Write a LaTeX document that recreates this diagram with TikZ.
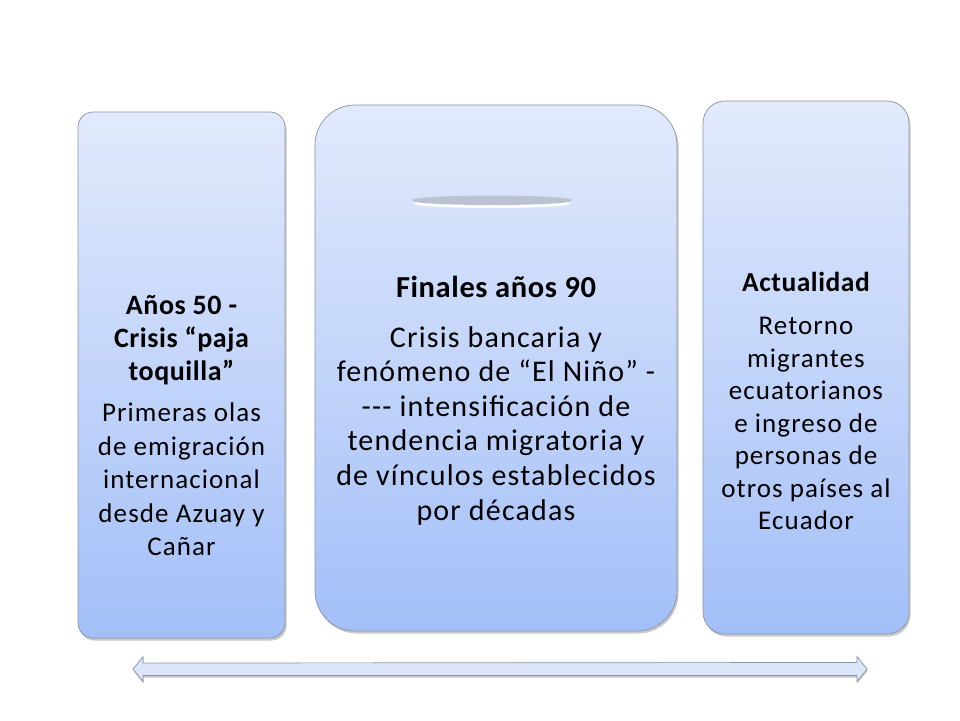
\documentclass[tikz,border=0pt]{standalone}
\usepackage{fontspec}
\setmainfont{Carlito}
\newfontfamily\bodyfont[LetterSpace=4]{Carlito}
\newfontfamily\titlefont[LetterSpace=2]{Carlito}
\usetikzlibrary{shadows}
\definecolor{topblue}{HTML}{E2EAFC}
\definecolor{botblue}{HTML}{A3BFF8}
\definecolor{edgegray}{HTML}{8A93A6}
\definecolor{arrowfill}{HTML}{DCE6F9}
\definecolor{bargray}{HTML}{BAC2D2}
\begin{document}
\begin{tikzpicture}[x=1pt,y=-1pt,
  box/.style={draw=edgegray, line width=0.7pt, top color=topblue, bottom color=botblue,
    drop shadow={shadow xshift=1.5pt, shadow yshift=-2.5pt, opacity=0.35, fill=black!60}},
  ttl/.style={anchor=north, align=center, inner sep=0pt, text=black},
  arrowstyle/.style={draw=edgegray, line width=0.7pt, fill=arrowfill,
    drop shadow={shadow xshift=0.5pt, shadow yshift=-2pt, opacity=0.35, fill=black!60}}
]
\useasboundingbox (0,0) rectangle (960,720);
\fill[white] (0,0) rectangle (960,720);

% boxes
\node[box, rounded corners=15pt, minimum width=207pt, minimum height=526pt] (L) at (181.5,375) {};
\node[box, rounded corners=40pt, minimum width=362pt, minimum height=526pt] (M) at (496,368) {};
\node[box, rounded corners=22pt, minimum width=206pt, minimum height=533pt] (R) at (806,367.5) {};

% gray bar in middle box
\fill[white] (492,203.5) ellipse (79pt and 4.5pt);
\fill[gray!70, opacity=0.5] (492,200) ellipse (80pt and 4.5pt);
\fill[bargray] (492,201) ellipse (79pt and 4pt);

% texts left
\node[ttl, font=\titlefont\bfseries\fontsize{28}{33}\selectfont] (Lt) at (181.5,295)
  {Años 50 -\\Crisis “paja\\toquilla”};
\node[ttl, font=\bodyfont\fontsize{27}{33.5}\selectfont] (Lb) at (181.5,403)
  {Primeras olas\\de emigración\\internacional\\desde Azuay y\\Cañar};

% texts middle
\node[ttl, font=\titlefont\bfseries\fontsize{30.5}{34}\selectfont] (Mt) at (496,276)
  {Finales años 90};
\node[ttl, font=\bodyfont\fontsize{30}{34.6}\selectfont] (Mb) at (496,326)
  {Crisis bancaria y\\fenómeno de “El Niño” -\\--{}- intensificación de\\tendencia migratoria y\\de vínculos establecidos\\por décadas};

% texts right
\node[ttl, font=\titlefont\bfseries\fontsize{27.5}{32}\selectfont] (Rt) at (806,272)
  {Actualidad};
\node[ttl, font=\bodyfont\fontsize{27}{32.5}\selectfont] (Rb) at (806,317)
  {Retorno\\migrantes\\ecuatorianos\\e ingreso de\\personas de\\otros países al\\Ecuador};

% double arrow
\coordinate (AL) at (133,669);
\coordinate (AR) at (867,669);
\draw[arrowstyle] (AL) -- ++(10,-12.5) -- ++(0,6.5) -- (857,662.5) -- ++(0,-6) -- (AR)
  -- (857,681.5) -- ++(0,-6) -- (143,675.5) -- ++(0,6) -- cycle;
\end{tikzpicture}
\end{document}
